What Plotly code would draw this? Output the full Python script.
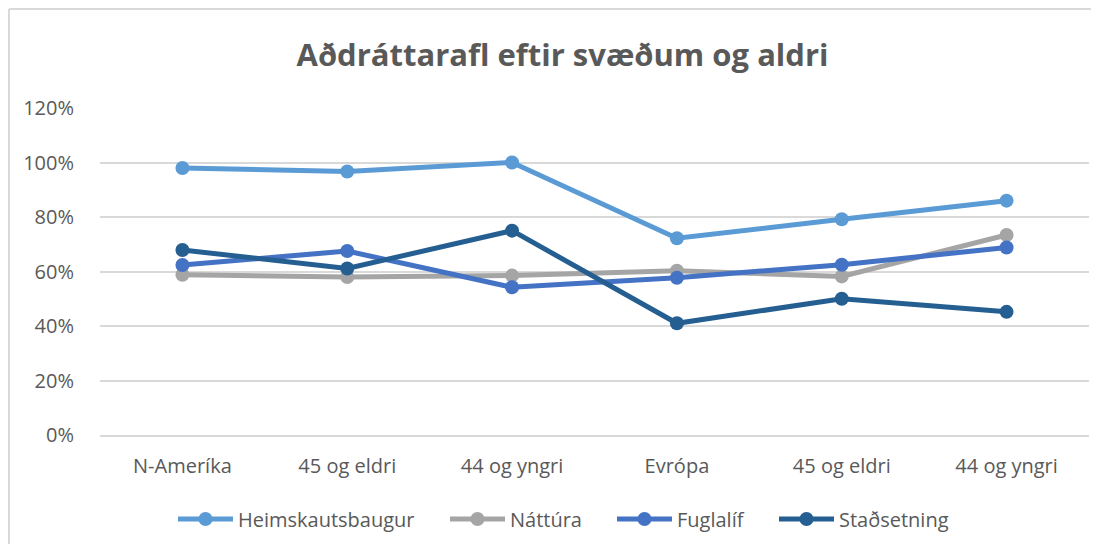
import plotly.graph_objects as go

categories = ["N-Ameríka", "45 og eldri", "44 og yngri", "Evrópa", "45 og eldri", "44 og yngri"]
heimskautsbaugur = [0.98, 0.967, 1.0, 0.722, 0.792, 0.86]
nattura = [0.588, 0.58, 0.585, 0.603, 0.582, 0.734]
fuglalif = [0.624, 0.675, 0.542, 0.577, 0.625, 0.688]
stadsetning = [0.679, 0.611, 0.75, 0.41, 0.50, 0.452]

series = [
    ("Heimskautsbaugur", heimskautsbaugur, "#5B9BD5"),
    ("Náttúra", nattura, "#A5A5A5"),
    ("Fuglalíf", fuglalif, "#4472C4"),
    ("Staðsetning", stadsetning, "#255E91"),
]

# page body has an 8px margin; size figure to fit the window
W, H = 1083, 536
L, R, T, B = 92, 2, 100, 109
pw, ph = W - L - R, H - T - B

legend_left_px = [165, 437, 604, 766]  # figure px where each legend entry starts

x = list(range(len(categories)))
fig = go.Figure()
legends = {}
for i, (name, vals, col) in enumerate(series):
    lid = "legend" if i == 0 else f"legend{i + 1}"
    fig.add_trace(go.Scatter(
        x=x, y=vals, name=name, mode="lines+markers",
        line=dict(color=col, width=5),
        marker=dict(color=col, size=14),
        legend=lid,
    ))
    legends[lid] = dict(orientation="h", x=(legend_left_px[i] - L) / pw, xanchor="left",
                        y=-84 / ph, yanchor="middle",
                        font=dict(size=20, color="#595959"), itemwidth=55,
                        bgcolor="rgba(0,0,0,0)")

fig.update_layout(
    width=W, height=H,
    margin=dict(l=L, r=R, t=T, b=B),
    paper_bgcolor="white", plot_bgcolor="white",
    font=dict(family="Open Sans", color="#595959", size=20),
    title=dict(text="<b>Aðdráttarafl eftir svæðum og aldri</b>",
               x=554.5 / W, xanchor="center", y=1 - 47 / H, yanchor="middle",
               font=dict(family="Open Sans", size=31, color="#595959")),
    xaxis=dict(range=[-0.5, len(categories) - 0.5], tickvals=x, ticktext=categories,
               showgrid=False, zeroline=False, showline=True, linecolor="#D9D9D9",
               linewidth=1.5, ticks="", tickfont=dict(size=20, color="#595959"),
               ticklabelstandoff=12, fixedrange=True),
    yaxis=dict(range=[0, 1.2], dtick=0.2, tickformat=".0%", showgrid=True,
               gridcolor="#D9D9D9", gridwidth=1.5, zeroline=False, showline=False,
               ticks="", tickfont=dict(size=20, color="#595959"),
               ticklabelstandoff=25, fixedrange=True),
    showlegend=True,
    **legends,
)

top = (T + ph - 1) / ph
left = (1 - L) / pw
fig.add_shape(type="line", xref="paper", yref="paper", x0=left, x1=(W - L) / pw,
              y0=top, y1=top, line=dict(color="#D9D9D9", width=2), layer="below")
fig.add_shape(type="line", xref="paper", yref="paper", x0=left, x1=left,
              y0=-(B) / ph, y1=top, line=dict(color="#D9D9D9", width=2), layer="below")

fig.write_html("out.html")
